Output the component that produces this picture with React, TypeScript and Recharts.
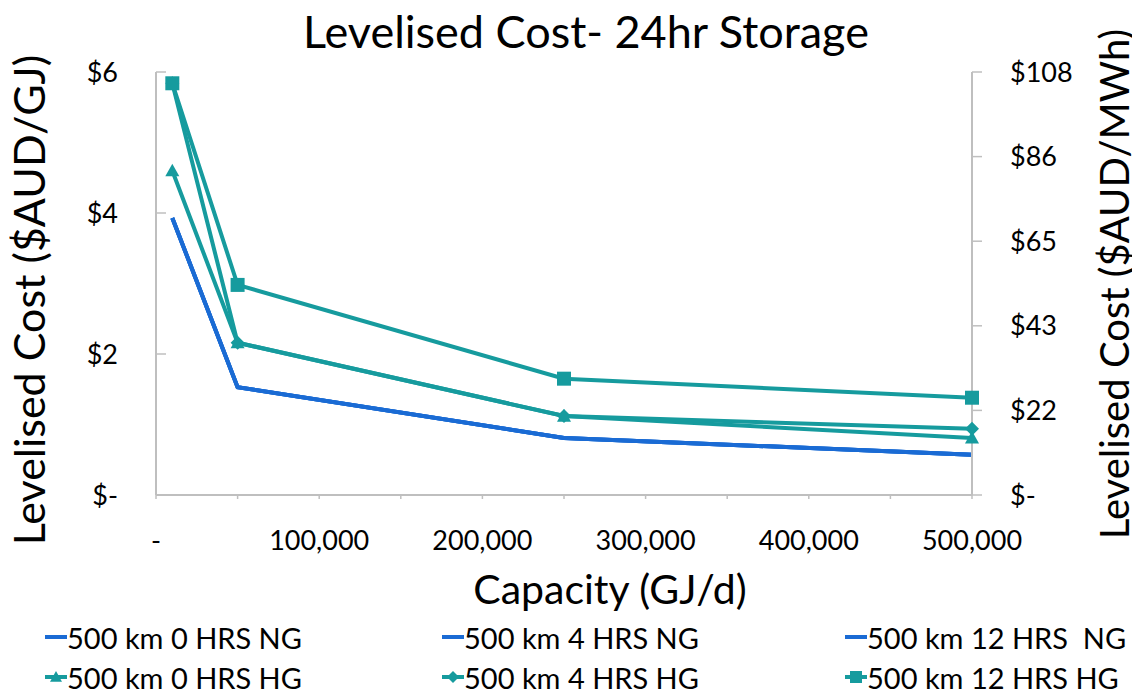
import React from "react";
import {
  LineChart,
  Line,
  XAxis,
  YAxis,
  Legend,
  Label,
} from "recharts";

// capacity (GJ/d) and levelised cost ($AUD/GJ)
const capacity = [10000, 50000, 250000, 500000];
const ng0 = [3.93, 1.53, 0.81, 0.57];
const ng4 = [3.93, 1.53, 0.81, 0.57];
const ng12 = [3.93, 1.53, 0.81, 0.57];
const hg0 = [4.6, 2.16, 1.12, 0.81];
const hg4 = [5.84, 2.16, 1.12, 0.94];
const hg12 = [5.84, 2.98, 1.65, 1.38];

// 1 $/GJ = 18 $/MWh on the secondary axis
const GJ_TO_MWH = 18;

const xTicks = [0, 50000, 100000, 150000, 200000, 250000, 300000, 350000, 400000, 450000, 500000];
const leftTicks = [0, 2, 4, 6];
const rightTicks = [0, 21.6, 43.2, 64.8, 86.4, 108];

const seriesNames = [
  "500 km 0 HRS NG",
  "500 km 4 HRS NG",
  "500 km 12 HRS  NG",
  "500 km 0 HRS HG",
  "500 km 4 HRS HG",
  "500 km 12 HRS HG",
];

const BLUE = "#1a6bd4";
const TEAL = "#169b9e";
const AXIS = "#bfbfbf";
const FONT = "Lato, 'Open Sans', sans-serif";

const data = capacity.map((x, i) => ({
  x,
  ng0: ng0[i],
  ng4: ng4[i],
  ng12: ng12[i],
  hg0: hg0[i],
  hg4: hg4[i],
  hg12: hg12[i],
}));

type Shape = "none" | "triangle" | "diamond" | "square";

function markerPath(shape: Shape, cx: number, cy: number, s: number) {
  if (shape === "triangle") return `M${cx},${cy - s} L${cx + s},${cy + s * 0.8} L${cx - s},${cy + s * 0.8} Z`;
  if (shape === "diamond") return `M${cx},${cy - s} L${cx + s},${cy} L${cx},${cy + s} L${cx - s},${cy} Z`;
  if (shape === "square") return `M${cx - s},${cy - s} H${cx + s} V${cy + s} H${cx - s} Z`;
  return "";
}

const makeDot = (shape: Shape) => (props: any) => {
  const { cx, cy, key, index } = props;
  if (cx == null || cy == null) return <g key={key ?? index} />;
  return <path key={key ?? index} d={markerPath(shape, cx, cy, 7)} fill={TEAL} />;
};

const series: { key: string; color: string; shape: Shape }[] = [
  { key: "ng0", color: BLUE, shape: "none" },
  { key: "ng4", color: BLUE, shape: "none" },
  { key: "ng12", color: BLUE, shape: "none" },
  { key: "hg0", color: TEAL, shape: "triangle" },
  { key: "hg4", color: TEAL, shape: "diamond" },
  { key: "hg12", color: TEAL, shape: "square" },
];

const colLeft = [45, 442, 845];

function LegendBox() {
  return (
    <div style={{ position: "relative", height: 80, width: 1140, fontFamily: FONT, fontSize: 29, color: "#000" }}>
      {series.map((s, i) => {
        const col = i % 3;
        const row = Math.floor(i / 3);
        return (
          <div
            key={s.key}
            style={{
              position: "absolute",
              left: colLeft[col],
              top: row * 40,
              height: 40,
              display: "flex",
              alignItems: "center",
              whiteSpace: "pre",
            }}
          >
            <svg width={22} height={20} style={{ marginRight: 0 }}>
              <line x1={0} y1={10} x2={22} y2={10} stroke={s.color} strokeWidth={4} />
              {s.shape !== "none" && <path d={markerPath(s.shape, 11, 10, 6)} fill={TEAL} />}
            </svg>
            <span>{seriesNames[i]}</span>
          </div>
        );
      })}
    </div>
  );
}

const xFormat = (v: number) => {
  if (v === 0) return "-";
  if (v % 100000 !== 0) return "";
  return v.toLocaleString("en-US");
};

const leftFormat = (v: number) => (v === 0 ? "$-" : `$${v}`);
const rightFormat = (v: number) => (v === 0 ? "$-" : `$${Math.round(v)}`);

export default function App() {
  return (
    <div style={{ position: "relative", margin: -8, width: 1140, height: 697, background: "#fff" }}>
      <div
        style={{
          position: "absolute",
          top: 5,
          left: 0,
          width: 1172,
          textAlign: "center",
          fontFamily: FONT,
          fontSize: 45,
          lineHeight: "52px",
          color: "#000",
        }}
      >
        Levelised Cost- 24hr Storage
      </div>
      <LineChart
        width={1140}
        height={697}
        data={data}
        margin={{ top: 72, right: 0, left: 0, bottom: 0 }}
      >
        <XAxis
          dataKey="x"
          type="number"
          domain={[0, 500000]}
          ticks={xTicks}
          interval={0}
          tickFormatter={xFormat}
          height={122}
          tickSize={4}
          tickMargin={32}
          axisLine={{ stroke: AXIS, strokeWidth: 2 }}
          tickLine={{ stroke: AXIS, strokeWidth: 1.5 }}
          tick={{ fill: "#000", fontSize: 27, fontFamily: FONT }}
        >
          <Label
            content={({ viewBox }: any) => (
              <text
                x={610}
                y={viewBox.y + 109}
                textAnchor="middle"
                style={{ fill: "#000", fontSize: 41, fontFamily: FONT }}
              >
                Capacity (GJ/d)
              </text>
            )}
          />
        </XAxis>
        <YAxis
          yAxisId="left"
          orientation="left"
          domain={[0, 6]}
          ticks={leftTicks}
          tickFormatter={leftFormat}
          width={156}
          tickSize={-10}
          tickMargin={48}
          axisLine={{ stroke: AXIS, strokeWidth: 2 }}
          tickLine={{ stroke: AXIS, strokeWidth: 1.5 }}
          tick={{ fill: "#000", fontSize: 27, fontFamily: FONT }}
        >
          <Label
            content={() => (
              <text
                x={28}
                y={300}
                transform="rotate(-90 28 300)"
                textAnchor="middle"
                dominantBaseline="central"
                style={{ fill: "#000", fontSize: 43, fontFamily: FONT }}
              >
                Levelised Cost ($AUD/GJ)
              </text>
            )}
          />
        </YAxis>
        <YAxis
          yAxisId="right"
          orientation="right"
          domain={[0, 108]}
          ticks={rightTicks}
          tickFormatter={rightFormat}
          width={168}
          tickSize={10}
          tickMargin={28}
          axisLine={{ stroke: AXIS, strokeWidth: 2 }}
          tickLine={{ stroke: AXIS, strokeWidth: 1.5 }}
          tick={{ fill: "#000", fontSize: 27, fontFamily: FONT, textAnchor: "start" }}
        >
          <Label
            content={() => (
              <text
                x={1114}
                y={284}
                transform="rotate(-90 1114 284)"
                textAnchor="middle"
                dominantBaseline="central"
                style={{ fill: "#000", fontSize: 40, fontFamily: FONT }}
              >
                Levelised Cost ($AUD/MWh)
              </text>
            )}
          />
        </YAxis>
        <Legend verticalAlign="bottom" align="left" content={() => <LegendBox />} wrapperStyle={{ left: 0, width: 1140 }} />
        {series.map((s, i) => (
          <Line
            key={s.key}
            yAxisId="left"
            type="linear"
            dataKey={s.key}
            name={seriesNames[i]}
            stroke={s.color}
            strokeWidth={4}
            dot={s.shape === "none" ? false : makeDot(s.shape)}
            activeDot={false}
            isAnimationActive={false}
          />
        ))}
        {/* same costs in $/MWh, only to carry the secondary axis */}
        <Line
          yAxisId="right"
          type="linear"
          dataKey={(d: any) => d.hg12 * GJ_TO_MWH}
          stroke="none"
          dot={false}
          activeDot={false}
          legendType="none"
          isAnimationActive={false}
        />
      </LineChart>
    </div>
  );
}
